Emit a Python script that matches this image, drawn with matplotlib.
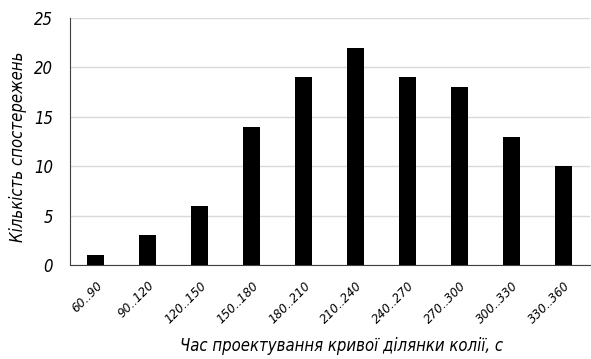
import matplotlib.pyplot as plt

intervals = ["60..90", "90..120", "120..150", "150..180", "180..210",
             "210..240", "240..270", "270..300", "300..330", "330..360"]
counts = [1, 3, 6, 14, 19, 22, 19, 18, 13, 10]
y_ticks = [0, 5, 10, 15, 20, 25]

plt.rcParams['font.family'] = 'DejaVu Sans'
plt.rcParams['font.stretch'] = 'condensed'

fig = plt.figure(figsize=(5.91, 3.59), dpi=100)
ax = fig.add_axes([0.118, 0.262, 0.88, 0.688])

x = range(len(intervals))
ax.bar(x, counts, width=0.33, color='black', zorder=3)

ax.set_xlim(-0.5, len(intervals) - 0.5)
ax.set_ylim(0, 25)
ax.set_yticks(y_ticks)
ax.set_yticklabels([str(t) for t in y_ticks], fontsize=12, fontstyle='italic')
ax.set_xticks(list(x))
ax.set_xticklabels(intervals, rotation=45, ha='right', rotation_mode='anchor',
                   fontsize=9.5, fontstyle='italic')
ax.tick_params(axis='y', length=0, pad=12)
ax.tick_params(axis='x', length=0, pad=10)

ax.grid(axis='y', color='#d9d9d9', linewidth=1, zorder=0)
for side in ['top', 'right']:
    ax.spines[side].set_visible(False)
ax.spines['left'].set_color('#404040')
ax.spines['bottom'].set_color('#404040')

ax.set_ylabel("Кількість спостережень", fontsize=12, fontstyle='italic')
ax.set_xlabel("Час проектування кривої ділянки колії, с", fontsize=12,
              fontstyle='italic')
ax.yaxis.set_label_coords(-0.083, 0.48)
ax.xaxis.set_label_coords(0.523, -0.29)

fig.savefig('out.png', dpi=100)
